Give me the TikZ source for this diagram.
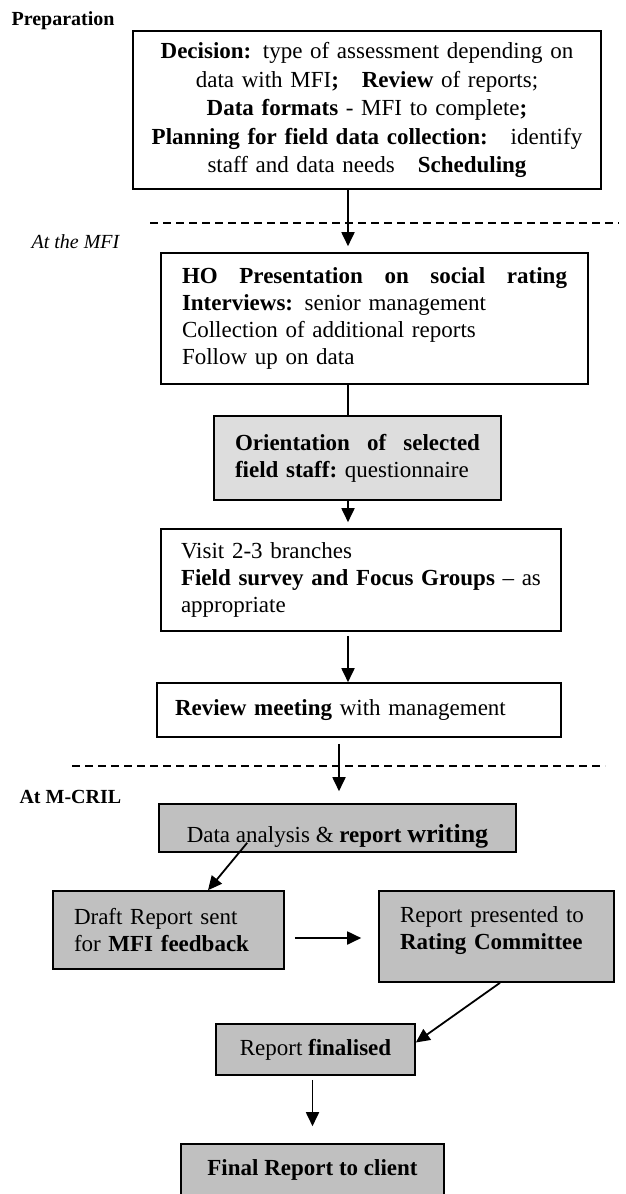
\documentclass[tikz,border=0pt]{standalone}
\usepackage{fontspec}
\setmainfont{Liberation Serif}
\usetikzlibrary{arrows.meta}

\definecolor{boxgray}{RGB}{192,192,192}
\definecolor{palegray}{RGB}{221,221,221}

\tikzset{
  stage/.style={draw, line width=1.6pt, inner ysep=0pt, font=\fontsize{23}{27}\selectfont},
  arr/.style={-{Triangle[width=13pt,length=14pt]}, line width=1.8pt},
  link/.style={line width=1.8pt},
  phase/.style={line width=1.2pt, dash pattern=on 8pt off 5pt},
  phaselabel/.style={anchor=base west, font=\fontsize{20}{24}\selectfont}
}

\begin{document}
\begin{tikzpicture}[x=1pt, y=-1pt]

		\useasboundingbox (0,0) rectangle (625,1194);

		% Phase labels and separators
		\node[phaselabel] (prep) at (8,25) {\textbf{Preparation}};
		\node[phaselabel] (atmfi) at (28,248) {\textit{At the MFI}};
		\node[phaselabel] (atcril) at (16,803) {\textbf{At M-CRIL}};
		\draw[phase] (150,223) -- (619,223);
		\draw[phase] (72,766) -- (605,766);

		% Preparation
		\node[stage, minimum width=468pt, minimum height=158pt, text width=460pt, inner xsep=4pt,
		      align=center, font=\fontsize{23}{28.5}\selectfont] (decision) at (367,110)
		  {\textbf{Decision:} type of assessment depending on\\
		   data with MFI\textbf{;}\ \ \ \textbf{Review} of reports;\\
		   \textbf{Data formats} - MFI to complete\textbf{;}\\
		   \textbf{Planning for field data collection:}\ \ \ identify\\
		   staff and data needs\ \ \ \textbf{Scheduling}};

		% At the MFI
		\node[stage, minimum width=427pt, minimum height=131pt, text width=385pt, inner xsep=21pt,
		      align=left] (hopres) at (374.5,318.5)
		  {\textbf{HO\hfill Presentation\hfill on\hfill social\hfill rating}\\
		   \textbf{Interviews:} senior management\\
		   Collection of additional reports\\
		   Follow up on data};
		\node[stage, fill=palegray, minimum width=287pt, minimum height=84pt, text width=245pt,
		      inner xsep=21pt, align=left] (orient) at (357.5,458)
		  {\textbf{Orientation\hfill of\hfill selected}\\
		   \textbf{field staff:}\ questionnaire};
		\node[stage, minimum width=400pt, minimum height=102pt, text width=376pt, inner xsep=12pt,
		      align=left] (visit) at (361,580)
		  {\hspace*{8pt}Visit 2-3 branches\\
		   \hspace*{8pt}\textbf{Field survey and Focus Groups} -- as\\
		   \hspace*{8pt}appropriate};
		\node[stage, minimum width=404pt, minimum height=54pt, text width=368pt, inner xsep=18pt,
		      align=left] (review) at (359,710)
		  {\textbf{Review meeting} with management};

		% At M-CRIL
		\node[stage, fill=boxgray, minimum width=357pt, minimum height=48pt] (analysis) at (337.5,828)
		  {\raisebox{-8pt}[\height][\depth]{Data analysis \& \textbf{report}
		   {\fontsize{26}{28}\selectfont\textbf{writing}}}};
		\node[stage, fill=boxgray, minimum width=231pt, minimum height=78pt, text width=189pt,
		      inner xsep=21pt, align=left] (draft) at (168.5,930)
		  {Draft Report sent\\
		   for \textbf{MFI feedback}};
		\node[stage, fill=boxgray, minimum width=235pt, minimum height=91pt, text width=193pt,
		      inner xsep=21pt, align=left] (committee) at (496.5,936.5)
		  {\raisebox{6pt}[\height][\depth]{\parbox{193pt}{Report presented to\\
		   \textbf{Rating Committee}}}};
		\node[stage, fill=boxgray, minimum width=199pt, minimum height=51pt] (finalised) at (315.5,1049.5)
		  {Report \textbf{finalised}};
		\node[stage, fill=boxgray, minimum width=263pt, minimum height=52pt] (client) at (312.5,1170)
		  {\textbf{Final Report to client}};

		% Connectors
		\coordinate (spine) at (348,0);
		\coordinate (drop) at (339,0);
		\draw[arr, shorten >=6pt] (decision.south -| spine) -- (hopres.north -| spine);
		\draw[link] (hopres.south -| spine) -- (orient.north -| spine);
		\draw[arr, shorten >=6pt] (orient.south -| spine) -- (visit.north -| spine);
		\draw[arr, shorten <=4pt] (visit.south -| spine) -- (review.north -| spine);
		\draw[arr, shorten <=6pt, shorten >=12pt] (review.south -| drop) -- (analysis.north -| drop);
		\draw[arr] ([xshift=89pt, yshift=10pt]analysis.south west) -- ([xshift=39.5pt]draft.north);
		\draw[arr, shorten <=10pt, shorten >=17pt] ([yshift=-8pt]draft.east) -- ([yshift=-8pt]draft.east -| committee.west);
		\draw[arr] ([xshift=3.5pt]committee.south) -- ([yshift=7pt]finalised.east);
		\draw[arr, shorten <=4pt, shorten >=17pt] (finalised.south -| client.north) -- (client.north);
	\end{tikzpicture}
\end{document}
